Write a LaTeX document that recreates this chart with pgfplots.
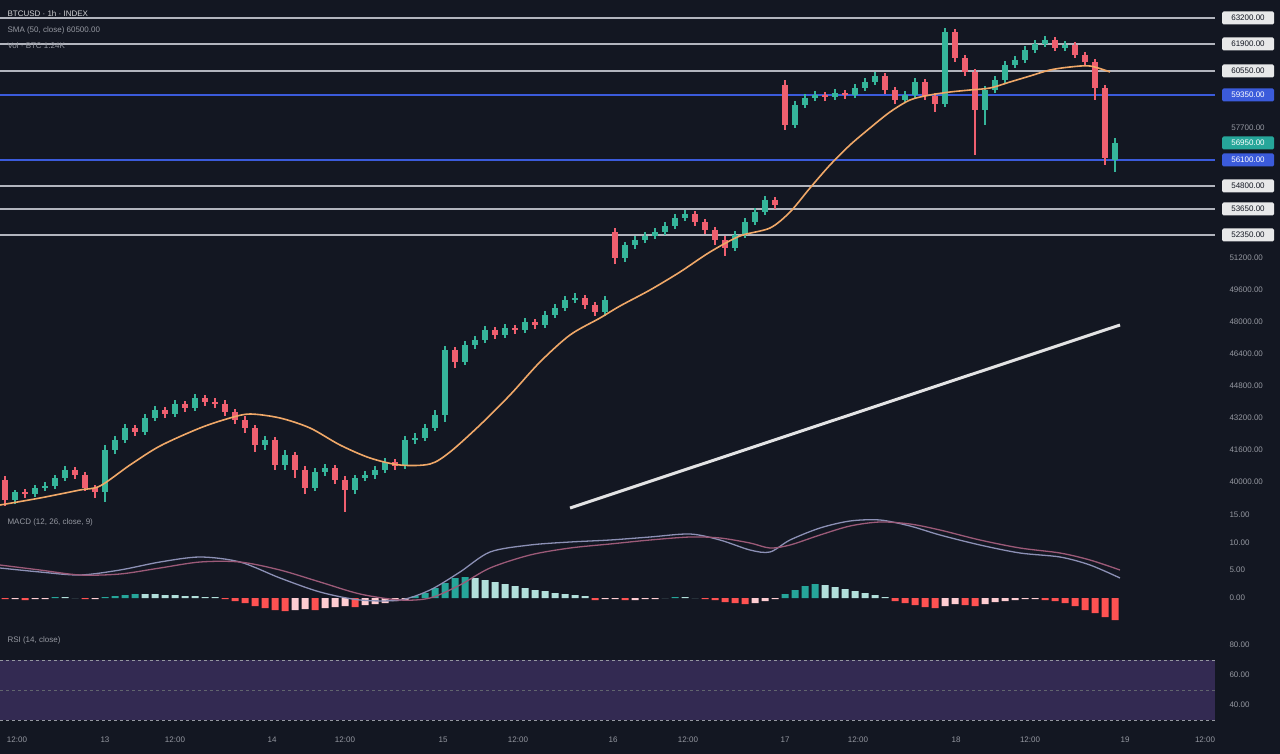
\documentclass[border=0pt]{standalone}
\usepackage{pgfplots}
\pgfplotsset{compat=1.18}
\usepackage{pgfplotstable}
\usepackage{fontspec}
\setmainfont{Liberation Sans}
\definecolor{bg}{HTML}{131722}
\definecolor{cgreen}{HTML}{35B59A}
\definecolor{cred}{HTML}{EF5F6F}
\definecolor{hpos}{HTML}{26A69A}
\definecolor{hposl}{HTML}{B2DFDB}
\definecolor{hneg}{HTML}{FF5252}
\definecolor{hnegl}{HTML}{FFCDD2}
\definecolor{maorange}{HTML}{F0A868}
\definecolor{lvlgrey}{HTML}{B2B5BE}
\definecolor{lvlblue}{HTML}{3B5BDB}
\definecolor{txtgrey}{HTML}{9598A1}
\definecolor{macdline}{HTML}{8C90B5}
\definecolor{sigline}{HTML}{9C5A78}
\definecolor{rsiband}{HTML}{7E57C2}

\pgfplotstableread{
x o hi lo c hist cls
0 40100 40300 38800 39100 -0.18 2
1 39100 39600 38900 39500 -0.18 3
2 39500 39650 39200 39400 -0.36 2
3 39400 39850 39250 39700 -0.18 3
4 39700 40000 39550 39800 -0.18 3
5 39800 40350 39650 40200 0.18 0
6 40200 40800 40050 40600 0.18 1
7 40600 40750 40150 40350 0 1
8 40350 40500 39550 39700 -0.18 2
9 39700 39850 39200 39500 -0.18 3
10 39500 41850 39000 41600 0.18 0
11 41600 42300 41400 42100 0.36 0
12 42100 42900 41950 42700 0.54 0
13 42700 42850 42300 42500 0.72 0
14 42500 43400 42350 43200 0.72 1
15 43200 43800 43050 43600 0.72 1
16 43600 43750 43200 43400 0.54 1
17 43400 44100 43250 43900 0.54 1
18 43900 44050 43500 43700 0.36 1
19 43700 44400 43550 44200 0.36 1
20 44200 44350 43800 44000 0.18 1
21 44000 44200 43700 43900 0.18 1
22 43900 44100 43300 43500 -0.18 2
23 43500 43650 42900 43100 -0.54 2
24 43100 43300 42450 42700 -0.9 2
25 42700 42850 41500 41850 -1.44 2
26 41850 42300 41600 42100 -1.8 2
27 42100 42250 40600 40850 -2.16 2
28 40850 41600 40600 41350 -2.34 2
29 41350 41500 40200 40600 -2.16 3
30 40600 40800 39400 39700 -1.98 3
31 39700 40700 39550 40500 -2.16 2
32 40500 40900 40300 40700 -1.8 3
33 40700 40850 39900 40100 -1.62 3
34 40100 40300 38500 39600 -1.44 3
35 39600 40350 39400 40200 -1.62 2
36 40200 40550 40050 40350 -1.26 3
37 40350 40800 40150 40600 -1.08 3
38 40600 41200 40450 41000 -0.9 3
39 41000 41150 40600 40800 -0.54 3
40 40800 42300 40650 42100 -0.36 3
41 42100 42450 41900 42200 0.36 0
42 42200 42900 42050 42700 0.9 0
43 42700 43600 42550 43350 1.8 0
44 43350 46800 43000 46600 2.7 0
45 46600 46750 45700 46000 3.6 0
46 46000 47050 45850 46850 3.78 0
47 46850 47300 46650 47100 3.6 1
48 47100 47800 46950 47600 3.24 1
49 47600 47750 47150 47350 2.88 1
50 47350 47900 47200 47700 2.52 1
51 47700 47850 47400 47600 2.16 1
52 47600 48200 47450 48000 1.8 1
53 48000 48150 47650 47850 1.44 1
54 47850 48550 47700 48350 1.26 1
55 48350 48900 48200 48700 0.9 1
56 48700 49300 48550 49100 0.72 1
57 49100 49450 48950 49200 0.54 1
58 49200 49350 48650 48850 0.36 1
59 48850 49000 48300 48500 -0.36 2
60 48500 49300 48300 49100 -0.18 3
61 52500 52700 50900 51200 -0.18 3
62 51200 52000 51000 51850 -0.36 2
63 51850 52300 51650 52100 -0.36 3
64 52100 52500 51950 52300 -0.18 3
65 52300 52700 52150 52500 -0.18 3
66 52500 53000 52350 52800 0 1
67 52800 53400 52650 53200 0.18 0
68 53200 53600 53050 53400 0.18 1
69 53400 53550 52800 53000 0 1
70 53000 53150 52400 52600 -0.18 2
71 52600 52750 51850 52100 -0.36 2
72 52100 52300 51300 51700 -0.72 2
73 51700 52550 51550 52350 -0.9 2
74 52350 53200 52200 53000 -1.08 2
75 53000 53700 52850 53500 -0.9 3
76 53500 54300 53350 54100 -0.54 3
77 54100 54250 53650 53850 -0.18 3
78 59850 60100 57600 57850 0.72 0
79 57850 59050 57700 58850 1.44 0
80 58850 59400 58700 59200 2.16 0
81 59200 59550 59050 59350 2.52 0
82 59350 59500 59050 59250 2.34 1
83 59250 59650 59100 59450 1.98 1
84 59450 59600 59150 59350 1.62 1
85 59350 59900 59200 59700 1.26 1
86 59700 60200 59550 60000 0.9 1
87 60000 60500 59850 60300 0.54 1
88 60300 60450 59400 59600 0.18 1
89 59600 59750 58900 59100 -0.54 2
90 59100 59550 58950 59350 -0.9 2
91 59350 60200 59200 60000 -1.26 2
92 60000 60150 59100 59300 -1.62 2
93 59300 59450 58500 58900 -1.8 2
94 58900 62700 58750 62500 -1.44 3
95 62500 62650 61000 61200 -1.08 3
96 61200 61350 60300 60500 -1.26 2
97 60500 60650 56350 58600 -1.44 2
98 58600 59800 57850 59600 -1.08 3
99 59600 60300 59450 60100 -0.72 3
100 60100 61050 59950 60850 -0.54 3
101 60850 61300 60700 61100 -0.36 3
102 61100 61800 60950 61600 -0.18 3
103 61600 62100 61450 61900 -0.18 3
104 61900 62300 61750 62100 -0.36 2
105 62100 62250 61550 61700 -0.54 2
106 61700 62050 61550 61850 -0.9 2
107 61850 62000 61200 61350 -1.44 2
108 61350 61500 60800 61000 -2.16 2
109 61000 61150 59100 59700 -2.7 2
110 59700 59850 55850 56200 -3.42 2
111 56100 57200 55500 56950 -3.96 2
}\candles

\pgfplotsset{
  pane/.style={scale only axis, width=1215pt, xmin=-0.5, xmax=121,
    axis line style={draw=none}, major tick length=0pt,
    yticklabel pos=right,
    ticklabel style={font=\fontsize{8}{9}\selectfont, text=txtgrey},
    yticklabel style={anchor=west, xshift=11pt}},
}
\tikzset{
  lbl/.style={rounded corners=1.5pt, inner sep=1pt, minimum width=52pt,
    minimum height=13pt, font=\fontsize{8}{9}\selectfont},
}

\begin{document}
\begin{tikzpicture}[x=1pt,y=1pt]
\fill[bg] (0,0) rectangle (1280,-754);

% ---------------- main price pane ----------------
\begin{axis}[pane, name=main, at={(0pt,0pt)}, anchor=north west, height=512pt,
  ymin=38500, ymax=64100, clip=false, xtick=\empty,
  ytick={40000,41600,...,51200},
  yticklabels={40000.00,41600.00,43200.00,44800.00,46400.00,48000.00,49600.00,51200.00}]

% horizontal levels
\addplot[lvlgrey, line width=1.8pt, forget plot] coordinates {(-0.5,63200)(121,63200)};
\addplot[lvlgrey, line width=1.8pt, forget plot] coordinates {(-0.5,61900)(121,61900)};
\addplot[lvlgrey, line width=1.8pt, forget plot] coordinates {(-0.5,60550)(121,60550)};
\addplot[lvlblue, line width=1.8pt, forget plot] coordinates {(-0.5,59350)(121,59350)};
\addplot[lvlblue, line width=1.8pt, forget plot] coordinates {(-0.5,56100)(121,56100)};
\addplot[lvlgrey, line width=1.8pt, forget plot] coordinates {(-0.5,54800)(121,54800)};
\addplot[lvlgrey, line width=1.8pt, forget plot] coordinates {(-0.5,53650)(121,53650)};
\addplot[lvlgrey, line width=1.8pt, forget plot] coordinates {(-0.5,52350)(121,52350)};

% wicks
\addplot[draw=none, mark=none, forget plot,
  restrict expr to domain={\thisrow{c}-\thisrow{o}}{0:1000000},
  error bars/.cd, y dir=both, y explicit, error mark=none,
  error bar style={draw=cgreen, line width=1.3pt}]
  table[x=x, y expr={(\thisrow{hi}+\thisrow{lo})/2}, y error expr={(\thisrow{hi}-\thisrow{lo})/2}] {\candles};
\addplot[draw=none, mark=none, forget plot,
  restrict expr to domain={\thisrow{o}-\thisrow{c}}{0.5:1000000},
  error bars/.cd, y dir=both, y explicit, error mark=none,
  error bar style={draw=cred, line width=1.3pt}]
  table[x=x, y expr={(\thisrow{hi}+\thisrow{lo})/2}, y error expr={(\thisrow{hi}-\thisrow{lo})/2}] {\candles};
% bodies
\addplot[draw=none, mark=none, forget plot,
  restrict expr to domain={\thisrow{c}-\thisrow{o}}{0:1000000},
  error bars/.cd, y dir=both, y explicit, error mark=none,
  error bar style={draw=cgreen, line width=5.5pt}]
  table[x=x, y expr={(\thisrow{o}+\thisrow{c})/2}, y error expr={max(abs(\thisrow{o}-\thisrow{c})/2,40)}] {\candles};
\addplot[draw=none, mark=none, forget plot,
  restrict expr to domain={\thisrow{o}-\thisrow{c}}{0.5:1000000},
  error bars/.cd, y dir=both, y explicit, error mark=none,
  error bar style={draw=cred, line width=5.5pt}]
  table[x=x, y expr={(\thisrow{o}+\thisrow{c})/2}, y error expr={max(abs(\thisrow{o}-\thisrow{c})/2,40)}] {\candles};

% moving average
\addplot[maorange, line width=1.6pt, smooth, mark=none] coordinates {
(-0.5,38850)(3.5,39200)(7.5,39600)(9.5,39800)(12.5,40850)(15.5,41800)(19.5,42700)
(22.5,43200)(24.5,43400)(27.5,43200)(30.5,42700)(33.5,41850)(36.5,41200)(39.5,40850)
(42.5,40900)(44.5,41500)(47.5,42850)(50.5,44350)(53.5,46000)(56.5,47350)(59.5,48200)
(61.5,48800)(64.5,49600)(67.5,50500)(70.5,51500)(73.5,52300)(76.5,52700)(78.5,53500)
(80.5,54700)(82.5,55850)(84.5,56850)(86.5,57700)(88.5,58500)(90.5,59100)(92.5,59350)
(94.5,59500)(96.5,59600)(98.5,59700)(100.5,60000)(102.5,60300)(104.5,60600)
(106.5,60750)(108.5,60800)(110.5,60500)};

% trend line
\addplot[white!88!bg, line width=3pt, mark=none] coordinates {(56.5,38700)(111.5,47850)};

% price labels
\node[lbl, fill=white!90!bg, text=bg] at (axis cs:124.3,63200) {63200.00};
\node[lbl, fill=white!90!bg, text=bg] at (axis cs:124.3,61900) {61900.00};
\node[lbl, fill=white!90!bg, text=bg] at (axis cs:124.3,60550) {60550.00};
\node[lbl, fill=lvlblue, text=white] at (axis cs:124.3,59350) {59350.00};
\node[lbl, text=txtgrey] at (axis cs:124.3,57700) {57700.00};
\node[lbl, fill=hpos, text=white] at (axis cs:124.3,56950) {56950.00};
\node[lbl, fill=lvlblue, text=white] at (axis cs:124.3,56100) {56100.00};
\node[lbl, fill=white!90!bg, text=bg] at (axis cs:124.3,54800) {54800.00};
\node[lbl, fill=white!90!bg, text=bg] at (axis cs:124.3,53650) {53650.00};
\node[lbl, fill=white!90!bg, text=bg] at (axis cs:124.3,52350) {52350.00};
\end{axis}

% ---------------- MACD pane ----------------
\begin{axis}[pane, name=macd, at={(main.south west)}, anchor=north west, height=113pt,
  ymin=-4.86, ymax=15.48, xtick=\empty,
  ytick={0,5,10,15}, yticklabels={0.00,5.00,10.00,15.00}]
\addplot[ybar, bar width=7pt, bar shift=0pt, fill=hpos, draw=none,
  restrict expr to domain={\thisrow{cls}}{0:0}] table[x=x, y=hist] {\candles};
\addplot[ybar, bar width=7pt, bar shift=0pt, fill=hposl, draw=none,
  restrict expr to domain={\thisrow{cls}}{1:1}] table[x=x, y=hist] {\candles};
\addplot[ybar, bar width=7pt, bar shift=0pt, fill=hneg, draw=none,
  restrict expr to domain={\thisrow{cls}}{2:2}] table[x=x, y=hist] {\candles};
\addplot[ybar, bar width=7pt, bar shift=0pt, fill=hnegl, draw=none,
  restrict expr to domain={\thisrow{cls}}{3:3}] table[x=x, y=hist] {\candles};
\addplot[macdline, line width=1.3pt, smooth, mark=none] coordinates {
(-0.5,5.40)(3.5,4.68)(7.5,4.14)(11.5,5.04)(15.5,6.48)(19.5,7.38)(23.5,6.48)(27.5,3.60)
(31.5,1.08)(35.5,-0.36)(39.5,-0.36)(42.5,1.44)(45.5,4.68)(48.5,8.28)(52.5,9.54)
(56.5,10.08)(60.5,10.44)(64.5,10.98)(68.5,11.52)(71.5,10.44)(74.5,8.64)(76.5,8.28)
(78.5,10.44)(81.5,12.60)(84.5,13.86)(87.5,14.04)(90.5,12.96)(93.5,11.34)(97.5,9.54)
(101.5,8.10)(105.5,7.38)(108.5,5.94)(111.5,3.60)};
\addplot[sigline, line width=1.3pt, smooth, mark=none] coordinates {
(-0.5,5.94)(3.5,5.04)(7.5,4.14)(11.5,4.32)(15.5,5.40)(19.5,6.48)(23.5,6.48)(27.5,5.04)
(31.5,2.88)(35.5,0.72)(39.5,-0.36)(42.5,0.00)(45.5,2.34)(48.5,5.40)(52.5,7.74)
(56.5,9.00)(60.5,9.72)(64.5,10.44)(68.5,10.98)(71.5,10.80)(74.5,9.90)(76.5,9.00)
(78.5,9.54)(81.5,11.34)(84.5,12.96)(87.5,13.68)(90.5,13.32)(93.5,12.24)(97.5,10.44)
(101.5,9.00)(105.5,8.10)(108.5,6.84)(111.5,5.04)};
\end{axis}

% ---------------- RSI pane ----------------
\begin{axis}[pane, name=rsi, at={(macd.south west)}, anchor=north west, height=105pt,
  ymin=23.33, ymax=93.33, clip=false,
  ytick={40,60,80}, yticklabels={40.00,60.00,80.00},
  xtick={1.2,10,17,26.7,34,43.8,51.3,60.8,68.3,78,85.3,95.1,102.5,112,120},
  xticklabels={12:00,13,12:00,14,12:00,15,12:00,16,12:00,17,12:00,18,12:00,19,12:00},
  xticklabel style={yshift=-3pt}]
\fill[rsiband, opacity=0.3] (axis cs:-0.5,30) rectangle (axis cs:121,70);
\draw[txtgrey, dashed, line width=0.8pt] (axis cs:-0.5,70) -- (axis cs:121,70);
\draw[txtgrey!60!bg, dashed, line width=0.6pt] (axis cs:-0.5,50) -- (axis cs:121,50);
\draw[txtgrey, dashed, line width=0.8pt] (axis cs:-0.5,30) -- (axis cs:121,30);
\end{axis}

% pane titles
\node[anchor=west, font=\fontsize{8}{9}\selectfont, text=white!80!bg] at (4,-14) {BTCUSD · 1h · INDEX};
\node[anchor=west, font=\fontsize{8}{9}\selectfont, text=txtgrey] at (4,-30) {SMA (50, close) 60500.00};
\node[anchor=west, font=\fontsize{8}{9}\selectfont, text=txtgrey] at (4,-46) {Vol · BTC 1.24K};
\node[anchor=west, font=\fontsize{8}{9}\selectfont, text=txtgrey] at (4,-522) {MACD (12, 26, close, 9)};
\node[anchor=west, font=\fontsize{8}{9}\selectfont, text=txtgrey] at (4,-640) {RSI (14, close)};

\pgfresetboundingbox
\path (0,0) rectangle (1280,-754);
\end{tikzpicture}
\end{document}
